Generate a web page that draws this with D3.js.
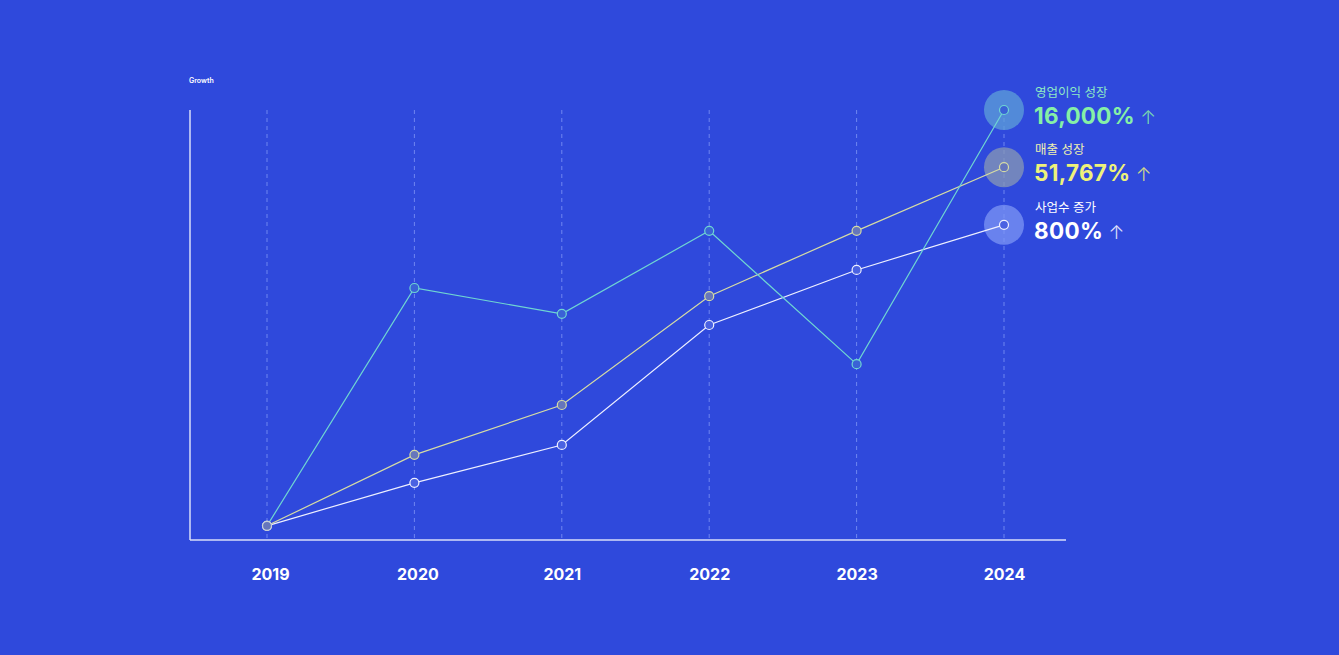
<!DOCTYPE html>
<html><head><meta charset="utf-8">
<script src="https://cdn.jsdelivr.net/npm/d3@7"></script>
<style>
html,body{margin:0;padding:0;background:#2f49dc;}
svg{display:block;}
text{font-family:Inter,"Noto Sans CJK KR",sans-serif;}
</style></head>
<body>
<svg id="c" width="1339" height="655"></svg>
<script>
const years = ["2019","2020","2021","2022","2023","2024"];
const profitIndex = [3.3, 58.6, 52.6, 71.9, 40.9, 100];
const revenueIndex = [3.3, 19.8, 31.4, 56.7, 71.9, 86.7];
const businessIndex = [3.3, 13.3, 22.1, 50.0, 62.8, 73.3];
const seriesNames = ["영업이익 성장", "매출 성장", "사업수 증가"];
const seriesTotals = ["16,000%", "51,767%", "800%"];
const axisTitle = "Growth";

const series = [
  {name: seriesNames[0], total: seriesTotals[0], values: profitIndex, line: "#6fd6d2", label: "#8ee8c4", big: "#86f0a6", halo: "#5fa0d8", dot: "#3a62d6"},
  {name: seriesNames[1], total: seriesTotals[1], values: revenueIndex, line: "#d6dca4", label: "#eef0b0", big: "#eef27a", halo: "#8a9ab4", dot: "#6676bc"},
  {name: seriesNames[2], total: seriesTotals[2], values: businessIndex, line: "#eef0ff", label: "#ffffff", big: "#ffffff", halo: "#7e96f4", dot: "#4a62e2"}
];

const svg = d3.select("#c");
const x = d3.scalePoint().domain(years).range([267, 1004]);
const y = d3.scaleLinear().domain([0, 100]).range([540, 110]);

svg.append("g").selectAll("line").data(years).join("line")
  .attr("x1", d => x(d)).attr("x2", d => x(d))
  .attr("y1", 110).attr("y2", 540)
  .attr("stroke", "#6f86f0").attr("stroke-width", 1).attr("stroke-dasharray", "4,4");

svg.append("line").attr("x1", 190).attr("x2", 190).attr("y1", 110).attr("y2", 540)
  .attr("stroke", "#d8defa").attr("stroke-width", 1.5);
svg.append("line").attr("x1", 190).attr("x2", 1066).attr("y1", 540).attr("y2", 540)
  .attr("stroke", "#d8defa").attr("stroke-width", 1.5);

svg.append("text").attr("x", 189).attr("y", 83).text(axisTitle)
  .attr("fill", "#ffffff").attr("font-size", 7).attr("font-weight", 600);

const xAxis = d3.axisBottom(x).tickSize(0).tickPadding(0);
const gx = svg.append("g").attr("transform", "translate(0,580)").call(xAxis);
gx.select(".domain").remove();
gx.selectAll("text").attr("fill", "#ffffff").attr("font-size", 16).attr("font-weight", 700)
  .attr("dy", 0).attr("dx", (d,i) => i === 0 ? 3 : (i === 1 ? 3 : 0))
  .attr("font-family", "Inter, sans-serif");

series.forEach(s => {
  const last = years.length - 1;
  svg.append("circle").attr("cx", x(years[last])).attr("cy", y(s.values[last])).attr("r", 20)
    .attr("fill", s.halo).attr("fill-opacity", 0.75);
});

const lineGen = d3.line().x((d,i) => x(years[i])).y(d => y(d));
[2,1,0].forEach(k => {
  const s = series[k];
  svg.append("path").datum(s.values).attr("d", lineGen)
    .attr("fill", "none").attr("stroke", s.line).attr("stroke-width", 1.2);
});
[2,1,0].forEach(k => {
  const s = series[k];
  svg.append("g").selectAll("circle").data(s.values).join("circle")
    .attr("cx", (d,i) => x(years[i])).attr("cy", d => y(d)).attr("r", 4.5)
    .attr("fill", (d,i) => i === 0 ? "#6676bc" : s.dot)
    .attr("stroke", (d,i) => i === 0 ? "#c8d0d8" : s.line).attr("stroke-width", 1.2);
});

series.forEach(s => {
  const cy = y(s.values[years.length - 1]);
  svg.append("text").attr("x", 1035).attr("y", cy - 13).text(s.name)
    .attr("fill", s.label).attr("font-size", 12.5).attr("font-family", "'Noto Sans CJK KR', sans-serif");
  const t = svg.append("text").attr("x", 1034).attr("y", cy + 14);
  t.append("tspan").text(s.total).attr("fill", s.big).attr("font-size", 22.5).attr("font-weight", 700)
    .attr("letter-spacing", 0.3);
  t.append("tspan").text(" ↑").attr("fill", s.big).attr("font-size", 19).attr("font-weight", 300)
    .attr("fill-opacity", 0.85);
});
</script>
</body></html>
